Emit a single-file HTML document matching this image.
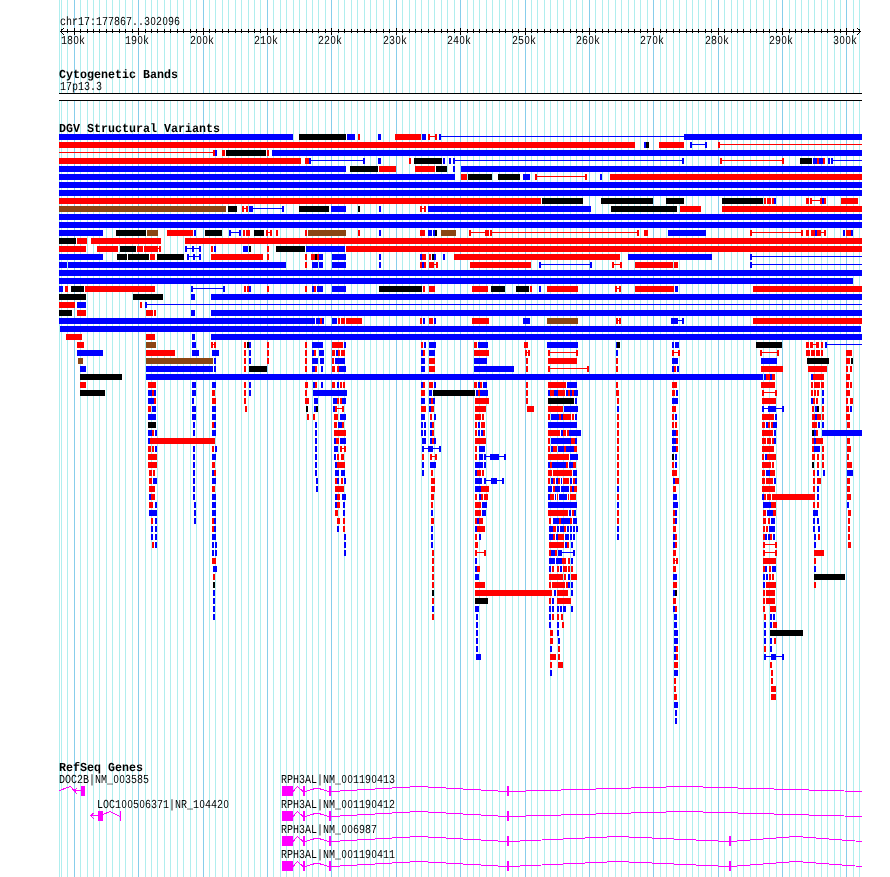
<!DOCTYPE html><html><head><meta charset="utf-8"><title>chr17:177867..302096</title>
<style>html,body{margin:0;padding:0;background:#fff}svg{display:block;will-change:transform}text{font-family:"Liberation Mono",monospace;fill:#000;text-rendering:geometricPrecision}.s{font-size:10px}.z{font-family:"Liberation Sans",sans-serif;font-size:9.4px}.b{font-size:11.67px;font-weight:bold}</style></head><body>
<svg width="890" height="877" viewBox="0 0 890 877" shape-rendering="crispEdges">
<rect width="890" height="877" fill="#fff"/>
<path d="M59 0v877M61 0v877M67 0v877M80 0v877M87 0v877M93 0v877M99 0v877M106 0v877M112 0v877M119 0v877M125 0v877M132 0v877M145 0v877M151 0v877M157 0v877M164 0v877M170 0v877M177 0v877M183 0v877M190 0v877M196 0v877M209 0v877M215 0v877M222 0v877M228 0v877M235 0v877M241 0v877M248 0v877M254 0v877M260 0v877M273 0v877M280 0v877M286 0v877M293 0v877M299 0v877M306 0v877M312 0v877M318 0v877M325 0v877M338 0v877M344 0v877M351 0v877M357 0v877M364 0v877M370 0v877M376 0v877M383 0v877M389 0v877M402 0v877M409 0v877M415 0v877M421 0v877M428 0v877M434 0v877M441 0v877M447 0v877M454 0v877M467 0v877M473 0v877M479 0v877M486 0v877M492 0v877M499 0v877M505 0v877M512 0v877M518 0v877M531 0v877M537 0v877M544 0v877M550 0v877M557 0v877M563 0v877M570 0v877M576 0v877M582 0v877M595 0v877M602 0v877M608 0v877M615 0v877M621 0v877M628 0v877M634 0v877M640 0v877M647 0v877M660 0v877M666 0v877M673 0v877M679 0v877M686 0v877M692 0v877M698 0v877M705 0v877M711 0v877M724 0v877M731 0v877M737 0v877M743 0v877M750 0v877M756 0v877M763 0v877M769 0v877M776 0v877M789 0v877M795 0v877M801 0v877M808 0v877M814 0v877M821 0v877M827 0v877M834 0v877M840 0v877M853 0v877M859 0v877" stroke="#b0eeee" stroke-width="1" transform="translate(0.5,0)" fill="none"/>
<path d="M74 0v877M138 0v877M203 0v877M267 0v877M331 0v877M396 0v877M460 0v877M525 0v877M589 0v877M653 0v877M718 0v877M782 0v877M846 0v877" stroke="#87ceeb" stroke-width="1" transform="translate(0.5,0)" fill="none"/>
<path d="M60 31h801v1h-801zM61 29h1v4h-1zM67 29h1v4h-1zM74 28h1v7h-1zM80 29h1v4h-1zM87 29h1v4h-1zM93 29h1v4h-1zM99 29h1v4h-1zM106 29h1v4h-1zM112 29h1v4h-1zM119 29h1v4h-1zM125 29h1v4h-1zM132 29h1v4h-1zM138 28h1v7h-1zM145 29h1v4h-1zM151 29h1v4h-1zM157 29h1v4h-1zM164 29h1v4h-1zM170 29h1v4h-1zM177 29h1v4h-1zM183 29h1v4h-1zM190 29h1v4h-1zM196 29h1v4h-1zM203 28h1v7h-1zM209 29h1v4h-1zM215 29h1v4h-1zM222 29h1v4h-1zM228 29h1v4h-1zM235 29h1v4h-1zM241 29h1v4h-1zM248 29h1v4h-1zM254 29h1v4h-1zM260 29h1v4h-1zM267 28h1v7h-1zM273 29h1v4h-1zM280 29h1v4h-1zM286 29h1v4h-1zM293 29h1v4h-1zM299 29h1v4h-1zM306 29h1v4h-1zM312 29h1v4h-1zM318 29h1v4h-1zM325 29h1v4h-1zM331 28h1v7h-1zM338 29h1v4h-1zM344 29h1v4h-1zM351 29h1v4h-1zM357 29h1v4h-1zM364 29h1v4h-1zM370 29h1v4h-1zM376 29h1v4h-1zM383 29h1v4h-1zM389 29h1v4h-1zM396 28h1v7h-1zM402 29h1v4h-1zM409 29h1v4h-1zM415 29h1v4h-1zM421 29h1v4h-1zM428 29h1v4h-1zM434 29h1v4h-1zM441 29h1v4h-1zM447 29h1v4h-1zM454 29h1v4h-1zM460 28h1v7h-1zM467 29h1v4h-1zM473 29h1v4h-1zM479 29h1v4h-1zM486 29h1v4h-1zM492 29h1v4h-1zM499 29h1v4h-1zM505 29h1v4h-1zM512 29h1v4h-1zM518 29h1v4h-1zM525 28h1v7h-1zM531 29h1v4h-1zM537 29h1v4h-1zM544 29h1v4h-1zM550 29h1v4h-1zM557 29h1v4h-1zM563 29h1v4h-1zM570 29h1v4h-1zM576 29h1v4h-1zM582 29h1v4h-1zM589 28h1v7h-1zM595 29h1v4h-1zM602 29h1v4h-1zM608 29h1v4h-1zM615 29h1v4h-1zM621 29h1v4h-1zM628 29h1v4h-1zM634 29h1v4h-1zM640 29h1v4h-1zM647 29h1v4h-1zM653 28h1v7h-1zM660 29h1v4h-1zM666 29h1v4h-1zM673 29h1v4h-1zM679 29h1v4h-1zM686 29h1v4h-1zM692 29h1v4h-1zM698 29h1v4h-1zM705 29h1v4h-1zM711 29h1v4h-1zM718 28h1v7h-1zM724 29h1v4h-1zM731 29h1v4h-1zM737 29h1v4h-1zM743 29h1v4h-1zM750 29h1v4h-1zM756 29h1v4h-1zM763 29h1v4h-1zM769 29h1v4h-1zM776 29h1v4h-1zM782 28h1v7h-1zM789 29h1v4h-1zM795 29h1v4h-1zM801 29h1v4h-1zM808 29h1v4h-1zM814 29h1v4h-1zM821 29h1v4h-1zM827 29h1v4h-1zM834 29h1v4h-1zM840 29h1v4h-1zM846 28h1v7h-1zM853 29h1v4h-1zM859 29h1v4h-1z" fill="#000"/>
<path d="M61 30h1v1h-1z M859 30h1v1h-1zM61 32h1v1h-1z M859 32h1v1h-1zM62 29h1v1h-1z M858 29h1v1h-1zM62 33h1v1h-1z M858 33h1v1h-1zM63 28h1v1h-1z M857 28h1v1h-1zM63 34h1v1h-1z M857 34h1v1h-1z" fill="#000"/>
<text class="s" transform="translate(60,25) scale(1,1.22)" xml:space="preserve"><tspan x="0">c</tspan><tspan x="6">h</tspan><tspan x="12">r</tspan><tspan x="18">1</tspan><tspan x="24">7</tspan><tspan x="30">:</tspan><tspan x="36">1</tspan><tspan x="42">7</tspan><tspan x="48">7</tspan><tspan x="54">8</tspan><tspan x="60">6</tspan><tspan x="66">7</tspan><tspan x="72">.</tspan><tspan x="78">.</tspan><tspan x="84">3</tspan><tspan class="z" x="90.4">0</tspan><tspan x="96">2</tspan><tspan class="z" x="102.4">0</tspan><tspan x="108">9</tspan><tspan x="114">6</tspan></text>
<text class="s" transform="translate(61,44) scale(1,1.22)" xml:space="preserve"><tspan x="0">1</tspan><tspan x="6">8</tspan><tspan class="z" x="12.4">0</tspan><tspan x="18">k</tspan></text>
<text class="s" transform="translate(125,44) scale(1,1.22)" xml:space="preserve"><tspan x="0">1</tspan><tspan x="6">9</tspan><tspan class="z" x="12.4">0</tspan><tspan x="18">k</tspan></text>
<text class="s" transform="translate(190,44) scale(1,1.22)" xml:space="preserve"><tspan x="0">2</tspan><tspan class="z" x="6.4">0</tspan><tspan class="z" x="12.4">0</tspan><tspan x="18">k</tspan></text>
<text class="s" transform="translate(254,44) scale(1,1.22)" xml:space="preserve"><tspan x="0">2</tspan><tspan x="6">1</tspan><tspan class="z" x="12.4">0</tspan><tspan x="18">k</tspan></text>
<text class="s" transform="translate(318,44) scale(1,1.22)" xml:space="preserve"><tspan x="0">2</tspan><tspan x="6">2</tspan><tspan class="z" x="12.4">0</tspan><tspan x="18">k</tspan></text>
<text class="s" transform="translate(383,44) scale(1,1.22)" xml:space="preserve"><tspan x="0">2</tspan><tspan x="6">3</tspan><tspan class="z" x="12.4">0</tspan><tspan x="18">k</tspan></text>
<text class="s" transform="translate(447,44) scale(1,1.22)" xml:space="preserve"><tspan x="0">2</tspan><tspan x="6">4</tspan><tspan class="z" x="12.4">0</tspan><tspan x="18">k</tspan></text>
<text class="s" transform="translate(512,44) scale(1,1.22)" xml:space="preserve"><tspan x="0">2</tspan><tspan x="6">5</tspan><tspan class="z" x="12.4">0</tspan><tspan x="18">k</tspan></text>
<text class="s" transform="translate(576,44) scale(1,1.22)" xml:space="preserve"><tspan x="0">2</tspan><tspan x="6">6</tspan><tspan class="z" x="12.4">0</tspan><tspan x="18">k</tspan></text>
<text class="s" transform="translate(640,44) scale(1,1.22)" xml:space="preserve"><tspan x="0">2</tspan><tspan x="6">7</tspan><tspan class="z" x="12.4">0</tspan><tspan x="18">k</tspan></text>
<text class="s" transform="translate(705,44) scale(1,1.22)" xml:space="preserve"><tspan x="0">2</tspan><tspan x="6">8</tspan><tspan class="z" x="12.4">0</tspan><tspan x="18">k</tspan></text>
<text class="s" transform="translate(769,44) scale(1,1.22)" xml:space="preserve"><tspan x="0">2</tspan><tspan x="6">9</tspan><tspan class="z" x="12.4">0</tspan><tspan x="18">k</tspan></text>
<text class="s" transform="translate(833,44) scale(1,1.22)" xml:space="preserve"><tspan x="0">3</tspan><tspan class="z" x="6.4">0</tspan><tspan class="z" x="12.4">0</tspan><tspan x="18">k</tspan></text>
<text class="b" transform="translate(59,78) scale(1,1.05)" xml:space="preserve">Cytogenetic Bands</text>
<text class="s" transform="translate(60,90) scale(1,1.22)" xml:space="preserve">17p13.3</text>
<rect x="59" y="93" width="803" height="8" fill="#000"/><rect x="59" y="94" width="803" height="6" fill="#fff"/>
<text class="b" transform="translate(59,132) scale(1,1.05)" xml:space="preserve">DGV Structural Variants</text>
<path d="M59 134h234v6h-234zM347 134h8v6h-8zM378 134h3v6h-3zM422 134h4v6h-4zM439 134h2v6h-2zM441 136h243v1h-243zM684 134h178v6h-178zM644 142h2v6h-2zM690 144h17v1h-17zM690 142h2v6h-2zM705 142h2v6h-2zM215 150h2v6h-2zM272 150h590v6h-590zM309 158h2v6h-2zM311 160h54v1h-54zM363 158h2v6h-2zM378 158h3v6h-3zM443 158h2v6h-2zM449 158h2v6h-2zM453 158h2v6h-2zM455 160h229v1h-229zM682 158h2v6h-2zM813 158h4v6h-4zM819 158h4v6h-4zM828 158h2v6h-2zM831 158h2v6h-2zM833 160h29v1h-29zM59 166h287v6h-287zM453 166h2v6h-2zM461 166h401v6h-401zM59 174h396v6h-396zM523 174h7v6h-7zM600 174h2v6h-2zM59 182h803v6h-803zM59 190h803v6h-803zM774 198h2v6h-2zM822 198h2v6h-2zM249 206h4v6h-4zM253 208h31v1h-31zM282 206h2v6h-2zM331 206h15v6h-15zM379 206h2v6h-2zM428 206h163v6h-163zM59 214h803v6h-803zM59 222h803v6h-803zM59 230h44v6h-44zM194 230h2v6h-2zM229 232h12v1h-12zM229 230h2v6h-2zM239 230h2v6h-2zM379 230h2v6h-2zM428 230h4v6h-4zM433 230h2v6h-2zM668 230h38v6h-38zM815 230h2v6h-2zM843 230h2v6h-2zM851 230h2v6h-2zM185 248h16v1h-16zM185 246h2v6h-2zM199 246h2v6h-2zM192 246h2v6h-2zM214 246h2v6h-2zM243 246h5v6h-5zM306 246h39v6h-39zM59 254h44v6h-44zM187 256h14v1h-14zM187 254h2v6h-2zM199 254h2v6h-2zM193 254h2v6h-2zM319 254h4v6h-4zM332 254h14v6h-14zM379 254h2v6h-2zM420 254h2v6h-2zM434 254h2v6h-2zM443 254h2v6h-2zM628 254h84v6h-84zM750 256h112v1h-112zM750 254h2v6h-2zM59 262h8v6h-8zM68 262h218v6h-218zM312 262h6v6h-6zM319 262h4v6h-4zM332 262h14v6h-14zM379 262h2v6h-2zM422 262h2v6h-2zM539 264h53v1h-53zM539 262h2v6h-2zM590 262h2v6h-2zM750 264h112v1h-112zM750 262h2v6h-2zM59 270h803v6h-803zM59 278h794v6h-794zM59 286h4v6h-4zM191 288h34v1h-34zM191 286h2v6h-2zM223 286h2v6h-2zM249 286h2v6h-2zM312 286h2v6h-2zM317 286h6v6h-6zM332 286h14v6h-14zM539 286h2v6h-2zM675 286h3v6h-3zM191 294h4v6h-4zM211 294h651v6h-651zM77 302h9v6h-9zM145 302h2v6h-2zM147 304h715v1h-715zM191 310h4v6h-4zM211 310h651v6h-651zM59 318h256v6h-256zM316 318h4v6h-4zM322 318h2v6h-2zM332 318h5v6h-5zM423 318h2v6h-2zM434 318h2v6h-2zM523 318h7v6h-7zM671 318h7v6h-7zM678 320h6v1h-6zM682 318h2v6h-2zM60 326h801v6h-801zM192 334h3v6h-3zM211 334h651v6h-651zM192 342h4v6h-4zM249 342h2v6h-2zM312 342h11v6h-11zM344 342h2v6h-2zM424 342h2v6h-2zM429 342h7v6h-7zM478 342h10v6h-10zM547 342h31v6h-31zM616 342h1v6h-1zM672 342h2v6h-2zM675 342h4v6h-4zM825 342h2v6h-2zM827 344h35v1h-35zM77 350h26v6h-26zM192 350h7v6h-7zM212 350h7v6h-7zM249 350h2v6h-2zM312 350h2v6h-2zM319 350h5v6h-5zM336 350h2v6h-2zM421 350h2v6h-2zM429 350h6v6h-6zM616 350h2v6h-2zM214 358h2v6h-2zM249 358h2v6h-2zM312 358h6v6h-6zM320 358h4v6h-4zM335 358h10v6h-10zM421 358h4v6h-4zM474 358h13v6h-13zM672 358h6v6h-6zM761 358h16v6h-16zM80 366h6v6h-6zM146 366h67v6h-67zM214 366h2v6h-2zM312 366h3v6h-3zM321 366h2v6h-2zM339 366h7v6h-7zM421 366h4v6h-4zM474 366h40v6h-40zM672 366h2v6h-2zM677 366h2v6h-2zM146 374h617v6h-617zM764 374h2v6h-2zM770 374h2v6h-2zM811 374h2v6h-2zM192 382h4v6h-4zM212 382h4v6h-4zM249 382h2v6h-2zM313 382h2v6h-2zM321 382h2v6h-2zM337 382h2v6h-2zM421 382h2v6h-2zM434 382h2v6h-2zM478 382h2v6h-2zM483 382h4v6h-4zM567 382h10v6h-10zM148 390h4v6h-4zM154 390h2v6h-2zM192 390h4v6h-4zM249 390h2v6h-2zM313 390h34v6h-34zM429 390h3v6h-3zM476 390h2v6h-2zM480 390h8v6h-8zM548 390h2v6h-2zM554 390h4v6h-4zM566 390h2v6h-2zM570 390h2v6h-2zM574 390h4v6h-4zM676 390h2v6h-2zM822 390h2v6h-2zM148 398h6v6h-6zM192 398h2v6h-2zM314 398h4v6h-4zM333 398h4v6h-4zM342 398h4v6h-4zM421 398h4v6h-4zM429 398h2v6h-2zM433 398h2v6h-2zM575 398h2v6h-2zM672 398h6v6h-6zM811 398h2v6h-2zM822 398h2v6h-2zM152 406h4v6h-4zM192 406h4v6h-4zM212 406h4v6h-4zM314 406h2v6h-2zM333 406h2v6h-2zM429 406h2v6h-2zM564 406h14v6h-14zM617 406h2v6h-2zM762 408h22v1h-22zM762 406h2v6h-2zM782 406h2v6h-2zM768 406h8v6h-8zM815 406h2v6h-2zM850 406h2v6h-2zM148 414h8v6h-8zM192 414h4v6h-4zM212 414h4v6h-4zM340 414h6v6h-6zM421 414h4v6h-4zM434 414h2v6h-2zM551 414h8v6h-8zM561 414h2v6h-2zM575 414h2v6h-2zM675 414h2v6h-2zM775 414h2v6h-2zM815 414h2v6h-2zM193 422h2v6h-2zM214 422h2v6h-2zM315 422h2v6h-2zM338 422h4v6h-4zM421 422h2v6h-2zM424 422h2v6h-2zM430 422h2v6h-2zM478 422h2v6h-2zM548 422h29v6h-29zM766 422h2v6h-2zM773 422h4v6h-4zM818 422h2v6h-2zM822 422h2v6h-2zM148 430h4v6h-4zM155 430h2v6h-2zM193 430h2v6h-2zM212 430h4v6h-4zM315 430h2v6h-2zM421 430h2v6h-2zM424 430h2v6h-2zM430 430h2v6h-2zM478 430h2v6h-2zM481 430h2v6h-2zM561 430h2v6h-2zM569 430h12v6h-12zM672 430h4v6h-4zM774 430h2v6h-2zM814 430h2v6h-2zM822 430h40v6h-40zM148 438h2v6h-2zM315 438h2v6h-2zM334 438h2v6h-2zM340 438h6v6h-6zM422 438h4v6h-4zM430 438h2v6h-2zM434 438h2v6h-2zM551 438h20v6h-20zM575 438h2v6h-2zM672 438h4v6h-4zM774 438h2v6h-2zM814 438h2v6h-2zM155 446h2v6h-2zM193 446h2v6h-2zM215 446h2v6h-2zM315 446h2v6h-2zM334 446h4v6h-4zM422 448h19v1h-19zM422 446h2v6h-2zM439 446h2v6h-2zM428 446h5v6h-5zM479 446h6v6h-6zM551 446h2v6h-2zM558 446h6v6h-6zM566 446h8v6h-8zM672 446h4v6h-4zM814 446h6v6h-6zM193 454h2v6h-2zM212 454h4v6h-4zM315 454h2v6h-2zM334 454h2v6h-2zM479 454h4v6h-4zM484 456h22v1h-22zM484 454h2v6h-2zM504 454h2v6h-2zM490 454h9v6h-9zM570 454h8v6h-8zM675 454h2v6h-2zM765 454h2v6h-2zM193 462h2v6h-2zM315 462h2v6h-2zM335 462h2v6h-2zM422 462h2v6h-2zM430 462h6v6h-6zM475 462h8v6h-8zM484 462h2v6h-2zM548 462h2v6h-2zM552 462h14v6h-14zM569 462h4v6h-4zM675 462h2v6h-2zM193 470h2v6h-2zM212 470h2v6h-2zM315 470h2v6h-2zM335 470h4v6h-4zM341 470h4v6h-4zM422 470h2v6h-2zM475 470h2v6h-2zM573 470h4v6h-4zM766 470h4v6h-4zM817 470h2v6h-2zM823 470h2v6h-2zM847 470h6v6h-6zM153 478h4v6h-4zM193 478h2v6h-2zM212 478h4v6h-4zM316 478h2v6h-2zM337 478h2v6h-2zM344 478h2v6h-2zM475 478h7v6h-7zM484 480h20v1h-20zM484 478h2v6h-2zM502 478h2v6h-2zM491 478h6v6h-6zM551 478h2v6h-2zM556 478h2v6h-2zM561 478h1v6h-1zM570 478h2v6h-2zM575 478h2v6h-2zM673 478h2v6h-2zM774 478h2v6h-2zM193 486h2v6h-2zM316 486h2v6h-2zM475 486h6v6h-6zM548 486h4v6h-4zM555 486h5v6h-5zM561 486h8v6h-8zM572 486h2v6h-2zM617 486h2v6h-2zM817 486h2v6h-2zM149 494h2v6h-2zM193 494h2v6h-2zM212 494h4v6h-4zM335 494h2v6h-2zM342 494h4v6h-4zM479 494h2v6h-2zM548 494h2v6h-2zM555 494h1v6h-1zM559 494h8v6h-8zM673 494h4v6h-4zM762 494h2v6h-2zM817 494h2v6h-2zM155 502h2v6h-2zM194 502h2v6h-2zM212 502h4v6h-4zM335 502h2v6h-2zM343 502h2v6h-2zM482 502h5v6h-5zM548 502h29v6h-29zM617 502h2v6h-2zM673 502h5v6h-5zM763 502h8v6h-8zM847 502h2v6h-2zM149 510h8v6h-8zM194 510h2v6h-2zM212 510h4v6h-4zM343 510h2v6h-2zM431 510h2v6h-2zM482 510h4v6h-4zM569 510h2v6h-2zM574 510h2v6h-2zM675 510h2v6h-2zM767 510h6v6h-6zM813 510h5v6h-5zM155 518h2v6h-2zM194 518h2v6h-2zM214 518h2v6h-2zM477 518h2v6h-2zM553 518h6v6h-6zM561 518h9v6h-9zM573 518h4v6h-4zM675 518h2v6h-2zM771 518h4v6h-4zM813 518h2v6h-2zM817 518h2v6h-2zM151 526h2v6h-2zM155 526h2v6h-2zM214 526h2v6h-2zM337 526h2v6h-2zM431 526h2v6h-2zM475 526h2v6h-2zM549 526h4v6h-4zM557 526h2v6h-2zM560 526h4v6h-4zM567 526h2v6h-2zM570 526h2v6h-2zM573 526h2v6h-2zM576 526h2v6h-2zM617 526h2v6h-2zM769 526h6v6h-6zM813 526h2v6h-2zM818 526h2v6h-2zM151 534h2v6h-2zM155 534h2v6h-2zM212 534h4v6h-4zM344 534h2v6h-2zM431 534h2v6h-2zM479 534h2v6h-2zM549 534h4v6h-4zM556 534h2v6h-2zM565 534h4v6h-4zM570 534h2v6h-2zM573 534h2v6h-2zM617 534h2v6h-2zM673 534h2v6h-2zM765 534h2v6h-2zM768 534h2v6h-2zM773 534h2v6h-2zM814 534h2v6h-2zM155 542h2v6h-2zM212 542h2v6h-2zM215 542h2v6h-2zM344 542h2v6h-2zM431 542h2v6h-2zM565 542h2v6h-2zM571 542h2v6h-2zM673 542h2v6h-2zM814 542h2v6h-2zM212 550h2v6h-2zM215 550h2v6h-2zM344 550h2v6h-2zM551 550h4v6h-4zM558 550h4v6h-4zM562 552h13v1h-13zM573 550h2v6h-2zM475 558h2v6h-2zM549 558h6v6h-6zM556 558h6v6h-6zM571 558h2v6h-2zM213 566h4v6h-4zM475 566h2v6h-2zM549 566h2v6h-2zM560 566h2v6h-2zM765 566h2v6h-2zM772 566h4v6h-4zM814 566h2v6h-2zM475 574h4v6h-4zM568 574h2v6h-2zM673 574h4v6h-4zM763 574h2v6h-2zM766 574h2v6h-2zM568 582h2v6h-2zM571 582h2v6h-2zM763 582h2v6h-2zM213 590h2v6h-2zM554 590h2v6h-2zM571 590h2v6h-2zM673 590h2v6h-2zM213 598h2v6h-2zM552 598h2v6h-2zM213 606h2v6h-2zM432 606h2v6h-2zM475 606h4v6h-4zM549 606h2v6h-2zM552 606h2v6h-2zM557 606h2v6h-2zM560 606h2v6h-2zM563 606h3v6h-3zM571 606h2v6h-2zM673 606h2v6h-2zM213 614h2v6h-2zM476 614h2v6h-2zM549 614h2v6h-2zM674 614h3v6h-3zM770 614h2v6h-2zM773 614h2v6h-2zM476 622h2v6h-2zM549 622h2v6h-2zM557 622h2v6h-2zM674 622h3v6h-3zM764 622h2v6h-2zM770 622h2v6h-2zM476 630h2v6h-2zM557 630h2v6h-2zM674 630h4v6h-4zM764 630h2v6h-2zM476 638h2v6h-2zM558 638h2v6h-2zM674 638h4v6h-4zM764 638h2v6h-2zM770 638h2v6h-2zM476 646h2v6h-2zM550 646h2v6h-2zM674 646h2v6h-2zM770 646h2v6h-2zM476 654h5v6h-5zM674 654h2v6h-2zM764 656h20v1h-20zM764 654h2v6h-2zM782 654h2v6h-2zM771 654h5v6h-5zM550 670h2v6h-2zM674 670h4v6h-4zM674 702h4v6h-4zM675 710h2v6h-2zM675 718h2v6h-2z" fill="#0000ff"/>
<path d="M358 134h2v6h-2zM395 134h26v6h-26zM428 136h9v1h-9zM428 134h2v6h-2zM435 134h2v6h-2zM59 142h576v6h-576zM659 142h25v6h-25zM718 144h144v1h-144zM718 142h2v6h-2zM59 152h154v1h-154zM213 150h2v6h-2zM222 150h3v6h-3zM267 150h2v6h-2zM59 158h242v6h-242zM305 158h4v6h-4zM409 158h2v6h-2zM720 160h64v1h-64zM720 158h2v6h-2zM782 158h2v6h-2zM817 158h2v6h-2zM823 158h2v6h-2zM379 166h17v6h-17zM415 166h20v6h-20zM461 174h6v6h-6zM535 176h52v1h-52zM535 174h2v6h-2zM585 174h2v6h-2zM610 174h252v6h-252zM59 198h482v6h-482zM764 198h2v6h-2zM767 198h4v6h-4zM772 198h2v6h-2zM806 198h3v6h-3zM810 198h2v6h-2zM812 200h8v1h-8zM820 198h2v6h-2zM824 198h2v6h-2zM841 198h17v6h-17zM242 208h6v1h-6zM242 206h2v6h-2zM246 206h2v6h-2zM420 208h6v1h-6zM420 206h2v6h-2zM424 206h2v6h-2zM680 206h21v6h-21zM722 206h140v6h-140zM167 230h26v6h-26zM243 230h2v6h-2zM246 230h4v6h-4zM266 232h6v1h-6zM266 230h2v6h-2zM270 230h2v6h-2zM276 230h2v6h-2zM305 230h2v6h-2zM358 230h2v6h-2zM420 230h5v6h-5zM469 232h16v1h-16zM469 230h2v6h-2zM485 230h4v6h-4zM490 230h2v6h-2zM492 232h147v1h-147zM637 230h2v6h-2zM644 230h4v6h-4zM750 232h53v1h-53zM750 230h2v6h-2zM801 230h2v6h-2zM806 230h3v6h-3zM811 230h4v6h-4zM817 230h4v6h-4zM821 232h5v1h-5zM824 230h2v6h-2zM846 230h5v6h-5zM77 238h10v6h-10zM91 238h70v6h-70zM185 238h677v6h-677zM59 246h27v6h-27zM97 246h21v6h-21zM137 246h6v6h-6zM144 246h14v6h-14zM158 248h3v1h-3zM159 246h2v6h-2zM211 246h2v6h-2zM267 246h2v6h-2zM346 246h516v6h-516zM150 254h5v6h-5zM211 254h52v6h-52zM267 254h2v6h-2zM305 254h2v6h-2zM311 254h4v6h-4zM317 254h2v6h-2zM422 254h4v6h-4zM429 254h2v6h-2zM454 254h166v6h-166zM305 262h2v6h-2zM420 262h2v6h-2zM424 262h2v6h-2zM429 262h5v6h-5zM434 264h4v1h-4zM436 262h2v6h-2zM470 262h61v6h-61zM612 264h10v1h-10zM612 262h2v6h-2zM620 262h2v6h-2zM635 262h38v6h-38zM674 264h4v1h-4zM674 262h2v6h-2zM676 262h2v6h-2zM65 286h3v6h-3zM85 286h70v6h-70zM244 286h2v6h-2zM247 286h2v6h-2zM267 286h2v6h-2zM305 286h2v6h-2zM314 286h2v6h-2zM423 286h2v6h-2zM429 286h6v6h-6zM472 286h16v6h-16zM530 286h2v6h-2zM547 286h31v6h-31zM615 288h6v1h-6zM615 286h2v6h-2zM619 286h2v6h-2zM635 286h39v6h-39zM753 286h109v6h-109zM59 302h16v6h-16zM140 302h2v6h-2zM77 310h9v6h-9zM146 310h7v6h-7zM154 310h2v6h-2zM320 318h2v6h-2zM338 318h2v6h-2zM341 318h4v6h-4zM346 318h16v6h-16zM420 318h2v6h-2zM429 318h4v6h-4zM472 318h17v6h-17zM616 320h5v1h-5zM616 318h2v6h-2zM619 318h2v6h-2zM753 318h109v6h-109zM66 334h16v6h-16zM146 334h9v6h-9zM77 342h7v6h-7zM211 344h5v1h-5zM211 342h2v6h-2zM214 342h2v6h-2zM244 342h2v6h-2zM267 342h2v6h-2zM305 342h2v6h-2zM332 342h11v6h-11zM421 342h2v6h-2zM474 342h3v6h-3zM524 342h4v6h-4zM806 342h3v6h-3zM810 342h3v6h-3zM813 344h3v1h-3zM816 342h3v6h-3zM821 342h2v6h-2zM146 350h29v6h-29zM244 350h2v6h-2zM267 350h2v6h-2zM305 350h2v6h-2zM314 350h2v6h-2zM332 350h3v6h-3zM338 350h2v6h-2zM341 350h4v6h-4zM423 350h2v6h-2zM474 350h15v6h-15zM525 352h5v1h-5zM525 350h2v6h-2zM528 350h2v6h-2zM548 352h30v1h-30zM548 350h2v6h-2zM576 350h2v6h-2zM672 352h8v1h-8zM672 350h2v6h-2zM678 350h2v6h-2zM760 352h19v1h-19zM760 350h2v6h-2zM777 350h2v6h-2zM806 350h4v6h-4zM811 350h4v6h-4zM816 350h4v6h-4zM821 350h2v6h-2zM846 350h6v6h-6zM244 358h2v6h-2zM267 358h2v6h-2zM305 358h2v6h-2zM332 358h2v6h-2zM429 358h6v6h-6zM526 358h2v6h-2zM548 358h29v6h-29zM616 358h2v6h-2zM846 358h4v6h-4zM244 366h2v6h-2zM305 366h2v6h-2zM315 366h2v6h-2zM332 366h3v6h-3zM337 366h2v6h-2zM429 366h6v6h-6zM526 366h2v6h-2zM548 368h41v1h-41zM548 366h2v6h-2zM587 366h2v6h-2zM616 366h2v6h-2zM674 366h2v6h-2zM761 366h22v6h-22zM808 366h19v6h-19zM846 366h2v6h-2zM850 366h2v6h-2zM766 374h4v6h-4zM772 374h3v6h-3zM813 374h11v6h-11zM846 374h4v6h-4zM80 382h6v6h-6zM148 382h8v6h-8zM244 382h2v6h-2zM305 382h3v6h-3zM315 382h2v6h-2zM332 382h3v6h-3zM340 382h2v6h-2zM343 382h2v6h-2zM423 382h2v6h-2zM429 382h4v6h-4zM474 382h3v6h-3zM480 382h2v6h-2zM526 382h2v6h-2zM548 382h18v6h-18zM616 382h2v6h-2zM672 382h5v6h-5zM761 382h14v6h-14zM811 382h2v6h-2zM814 382h6v6h-6zM821 382h3v6h-3zM846 382h3v6h-3zM850 382h2v6h-2zM152 390h2v6h-2zM212 390h3v6h-3zM244 390h2v6h-2zM305 390h2v6h-2zM421 390h4v6h-4zM478 390h2v6h-2zM526 390h2v6h-2zM550 390h4v6h-4zM558 390h7v6h-7zM568 390h2v6h-2zM572 390h2v6h-2zM616 390h3v6h-3zM672 390h3v6h-3zM762 392h15v1h-15zM762 390h2v6h-2zM775 390h2v6h-2zM811 390h2v6h-2zM814 390h2v6h-2zM817 390h2v6h-2zM846 390h4v6h-4zM154 398h2v6h-2zM212 398h4v6h-4zM244 398h2v6h-2zM305 398h4v6h-4zM337 398h2v6h-2zM340 398h2v6h-2zM431 398h2v6h-2zM475 398h14v6h-14zM526 398h2v6h-2zM617 398h2v6h-2zM762 398h14v6h-14zM813 398h2v6h-2zM816 398h2v6h-2zM846 398h2v6h-2zM850 398h3v6h-3zM148 406h3v6h-3zM245 406h2v6h-2zM335 408h9v1h-9zM335 406h2v6h-2zM342 406h2v6h-2zM421 406h5v6h-5zM431 406h3v6h-3zM475 406h11v6h-11zM527 406h7v6h-7zM548 406h15v6h-15zM672 406h4v6h-4zM812 406h2v6h-2zM822 406h2v6h-2zM846 406h3v6h-3zM307 414h2v6h-2zM313 414h2v6h-2zM334 414h4v6h-4zM430 414h2v6h-2zM475 414h6v6h-6zM482 414h2v6h-2zM548 414h2v6h-2zM559 414h2v6h-2zM563 414h8v6h-8zM572 414h2v6h-2zM617 414h2v6h-2zM672 414h2v6h-2zM762 414h12v6h-12zM812 414h3v6h-3zM817 414h4v6h-4zM822 414h2v6h-2zM846 414h4v6h-4zM212 422h2v6h-2zM334 422h3v6h-3zM342 422h2v6h-2zM432 422h2v6h-2zM475 422h2v6h-2zM481 422h4v6h-4zM617 422h2v6h-2zM672 422h2v6h-2zM675 422h2v6h-2zM762 422h3v6h-3zM768 422h2v6h-2zM771 422h2v6h-2zM812 422h5v6h-5zM847 422h3v6h-3zM152 430h2v6h-2zM334 430h12v6h-12zM432 430h2v6h-2zM475 430h2v6h-2zM483 430h2v6h-2zM548 430h12v6h-12zM563 430h3v6h-3zM567 430h2v6h-2zM617 430h2v6h-2zM676 430h2v6h-2zM762 430h11v6h-11zM816 430h2v6h-2zM150 438h65v6h-65zM336 438h3v6h-3zM432 438h2v6h-2zM475 438h11v6h-11zM548 438h2v6h-2zM571 438h4v6h-4zM617 438h2v6h-2zM676 438h2v6h-2zM762 438h4v6h-4zM767 438h4v6h-4zM772 438h2v6h-2zM812 438h2v6h-2zM816 438h7v6h-7zM847 438h3v6h-3zM148 446h3v6h-3zM152 446h2v6h-2zM212 446h2v6h-2zM340 448h6v1h-6zM340 446h2v6h-2zM344 446h2v6h-2zM475 446h2v6h-2zM548 446h2v6h-2zM553 446h4v6h-4zM564 446h2v6h-2zM574 446h3v6h-3zM617 446h2v6h-2zM676 446h2v6h-2zM762 446h12v6h-12zM812 446h2v6h-2zM822 446h2v6h-2zM847 446h4v6h-4zM148 454h9v6h-9zM337 454h2v6h-2zM341 454h3v6h-3zM422 454h2v6h-2zM430 456h7v1h-7zM430 454h2v6h-2zM435 454h2v6h-2zM475 454h2v6h-2zM548 454h21v6h-21zM617 454h2v6h-2zM762 454h2v6h-2zM767 454h9v6h-9zM812 454h3v6h-3zM817 454h2v6h-2zM822 454h2v6h-2zM847 454h2v6h-2zM148 462h9v6h-9zM212 462h3v6h-3zM337 462h8v6h-8zM550 462h2v6h-2zM566 462h2v6h-2zM573 462h3v6h-3zM617 462h2v6h-2zM672 462h2v6h-2zM762 462h9v6h-9zM772 462h2v6h-2zM817 462h2v6h-2zM822 462h2v6h-2zM847 462h5v6h-5zM149 470h3v6h-3zM153 470h2v6h-2zM214 470h2v6h-2zM431 470h2v6h-2zM477 470h4v6h-4zM482 470h2v6h-2zM548 470h4v6h-4zM553 470h19v6h-19zM617 470h2v6h-2zM672 470h5v6h-5zM762 470h3v6h-3zM770 470h5v6h-5zM813 470h2v6h-2zM149 478h3v6h-3zM335 478h2v6h-2zM341 478h2v6h-2zM431 478h4v6h-4zM548 478h2v6h-2zM553 478h2v6h-2zM558 478h2v6h-2zM563 478h6v6h-6zM573 478h2v6h-2zM617 478h2v6h-2zM675 478h4v6h-4zM762 478h3v6h-3zM766 478h7v6h-7zM813 478h2v6h-2zM817 478h4v6h-4zM847 478h3v6h-3zM149 486h6v6h-6zM212 486h3v6h-3zM335 486h9v6h-9zM431 486h4v6h-4zM481 486h8v6h-8zM553 486h2v6h-2zM570 486h2v6h-2zM574 486h3v6h-3zM673 486h3v6h-3zM762 486h13v6h-13zM813 486h2v6h-2zM847 486h3v6h-3zM151 494h4v6h-4zM337 494h3v6h-3zM431 494h3v6h-3zM475 494h2v6h-2zM481 494h2v6h-2zM484 494h4v6h-4zM550 494h4v6h-4zM557 494h1v6h-1zM568 494h1v6h-1zM570 494h6v6h-6zM617 494h2v6h-2zM764 494h2v6h-2zM767 494h4v6h-4zM772 494h43v6h-43zM847 494h4v6h-4zM149 502h4v6h-4zM337 502h3v6h-3zM431 502h2v6h-2zM475 502h6v6h-6zM771 502h5v6h-5zM813 502h2v6h-2zM817 502h2v6h-2zM335 510h3v6h-3zM475 510h6v6h-6zM548 510h20v6h-20zM572 510h2v6h-2zM617 510h2v6h-2zM673 510h2v6h-2zM763 510h3v6h-3zM773 510h3v6h-3zM848 510h3v6h-3zM151 518h2v6h-2zM212 518h2v6h-2zM337 518h3v6h-3zM343 518h2v6h-2zM431 518h3v6h-3zM475 518h2v6h-2zM479 518h4v6h-4zM549 518h2v6h-2zM559 518h2v6h-2zM570 518h2v6h-2zM617 518h2v6h-2zM673 518h2v6h-2zM763 518h3v6h-3zM768 518h2v6h-2zM848 518h2v6h-2zM212 526h2v6h-2zM343 526h2v6h-2zM477 526h8v6h-8zM553 526h3v6h-3zM564 526h2v6h-2zM673 526h3v6h-3zM763 526h2v6h-2zM766 526h2v6h-2zM848 526h2v6h-2zM475 534h2v6h-2zM553 534h2v6h-2zM558 534h6v6h-6zM675 534h2v6h-2zM763 534h2v6h-2zM770 534h2v6h-2zM818 534h2v6h-2zM848 534h2v6h-2zM152 542h2v6h-2zM475 542h3v6h-3zM549 542h15v6h-15zM567 542h2v6h-2zM675 542h2v6h-2zM763 544h14v1h-14zM763 542h2v6h-2zM775 542h2v6h-2zM848 542h3v6h-3zM432 550h2v6h-2zM475 552h11v1h-11zM475 550h2v6h-2zM484 550h2v6h-2zM549 550h2v6h-2zM555 550h2v6h-2zM673 550h3v6h-3zM763 552h14v1h-14zM763 550h2v6h-2zM775 550h2v6h-2zM814 550h10v6h-10zM212 558h4v6h-4zM432 558h2v6h-2zM562 558h4v6h-4zM568 558h2v6h-2zM673 560h5v1h-5zM673 558h2v6h-2zM676 558h2v6h-2zM763 558h13v6h-13zM814 558h2v6h-2zM432 566h2v6h-2zM477 566h3v6h-3zM552 566h2v6h-2zM557 566h2v6h-2zM563 566h2v6h-2zM565 566h2v6h-2zM568 566h2v6h-2zM571 566h2v6h-2zM673 566h3v6h-3zM763 566h2v6h-2zM769 566h2v6h-2zM213 574h2v6h-2zM432 574h2v6h-2zM549 574h14v6h-14zM564 574h2v6h-2zM571 574h6v6h-6zM769 574h2v6h-2zM772 574h2v6h-2zM432 582h2v6h-2zM475 582h10v6h-10zM549 582h2v6h-2zM552 582h13v6h-13zM566 582h2v6h-2zM673 582h4v6h-4zM766 582h10v6h-10zM814 582h2v6h-2zM475 590h77v6h-77zM557 590h11v6h-11zM763 590h2v6h-2zM766 590h9v6h-9zM432 598h2v6h-2zM549 598h2v6h-2zM557 598h14v6h-14zM673 598h3v6h-3zM763 598h2v6h-2zM766 598h9v6h-9zM675 606h2v6h-2zM763 606h2v6h-2zM770 606h6v6h-6zM432 614h2v6h-2zM552 614h2v6h-2zM557 614h2v6h-2zM561 614h2v6h-2zM764 614h2v6h-2zM562 622h2v6h-2zM773 622h4v6h-4zM550 630h3v6h-3zM550 638h3v6h-3zM774 638h2v6h-2zM558 646h2v6h-2zM676 646h2v6h-2zM764 646h2v6h-2zM550 654h6v6h-6zM558 654h2v6h-2zM676 654h2v6h-2zM550 662h2v6h-2zM558 662h5v6h-5zM674 662h4v6h-4zM770 662h2v6h-2zM771 670h2v6h-2zM674 678h2v6h-2zM771 678h2v6h-2zM674 686h2v6h-2zM771 686h5v6h-5zM674 694h3v6h-3zM771 694h5v6h-5z" fill="#ff0000"/>
<path d="M299 134h47v6h-47zM646 142h3v6h-3zM226 150h40v6h-40zM414 158h28v6h-28zM800 158h12v6h-12zM350 166h28v6h-28zM436 166h11v6h-11zM468 174h24v6h-24zM498 174h22v6h-22zM542 198h41v6h-41zM601 198h52v6h-52zM666 198h18v6h-18zM722 198h41v6h-41zM228 206h9v6h-9zM299 206h30v6h-30zM358 206h2v6h-2zM611 206h66v6h-66zM116 230h30v6h-30zM205 230h17v6h-17zM254 230h10v6h-10zM435 230h2v6h-2zM59 238h17v6h-17zM120 246h16v6h-16zM249 246h2v6h-2zM276 246h29v6h-29zM117 254h10v6h-10zM128 254h21v6h-21zM157 254h27v6h-27zM315 254h2v6h-2zM432 254h2v6h-2zM71 286h13v6h-13zM379 286h43v6h-43zM491 286h14v6h-14zM516 286h13v6h-13zM59 294h27v6h-27zM133 294h30v6h-30zM59 310h13v6h-13zM247 342h2v6h-2zM617 342h3v6h-3zM756 342h26v6h-26zM807 358h22v6h-22zM851 358h2v6h-2zM249 366h18v6h-18zM80 374h42v6h-42zM80 390h25v6h-25zM433 390h42v6h-42zM548 398h26v6h-26zM306 406h2v6h-2zM316 406h2v6h-2zM817 406h2v6h-2zM148 422h8v6h-8zM812 430h2v6h-2zM672 454h2v6h-2zM812 462h2v6h-2zM814 574h31v6h-31zM213 582h2v6h-2zM432 590h2v6h-2zM675 590h2v6h-2zM475 598h13v6h-13zM770 630h33v6h-33z" fill="#000000"/>
<path d="M59 206h167v6h-167zM147 230h11v6h-11zM308 230h38v6h-38zM441 230h15v6h-15zM547 318h31v6h-31zM146 342h10v6h-10zM78 358h5v6h-5zM146 358h67v6h-67z" fill="#8b4513"/>
<text class="b" transform="translate(59,771) scale(1,1.05)" xml:space="preserve">RefSeq Genes</text>
<text class="s" transform="translate(59,783) scale(1,1.22)" xml:space="preserve"><tspan x="0">D</tspan><tspan x="6">O</tspan><tspan x="12">C</tspan><tspan x="18">2</tspan><tspan x="24">B</tspan><tspan x="30">|</tspan><tspan x="36">N</tspan><tspan x="42">M</tspan><tspan x="48">_</tspan><tspan class="z" x="54.4">0</tspan><tspan class="z" x="60.4">0</tspan><tspan x="66">3</tspan><tspan x="72">5</tspan><tspan x="78">8</tspan><tspan x="84">5</tspan></text>
<text class="s" transform="translate(97,808) scale(1,1.22)" xml:space="preserve"><tspan x="0">L</tspan><tspan x="6">O</tspan><tspan x="12">C</tspan><tspan x="18">1</tspan><tspan class="z" x="24.4">0</tspan><tspan class="z" x="30.4">0</tspan><tspan x="36">5</tspan><tspan class="z" x="42.4">0</tspan><tspan x="48">6</tspan><tspan x="54">3</tspan><tspan x="60">7</tspan><tspan x="66">1</tspan><tspan x="72">|</tspan><tspan x="78">N</tspan><tspan x="84">R</tspan><tspan x="90">_</tspan><tspan x="96">1</tspan><tspan class="z" x="102.4">0</tspan><tspan x="108">4</tspan><tspan x="114">4</tspan><tspan x="120">2</tspan><tspan class="z" x="126.4">0</tspan></text>
<text class="s" transform="translate(281,783) scale(1,1.22)" xml:space="preserve"><tspan x="0">R</tspan><tspan x="6">P</tspan><tspan x="12">H</tspan><tspan x="18">3</tspan><tspan x="24">A</tspan><tspan x="30">L</tspan><tspan x="36">|</tspan><tspan x="42">N</tspan><tspan x="48">M</tspan><tspan x="54">_</tspan><tspan class="z" x="60.4">0</tspan><tspan class="z" x="66.4">0</tspan><tspan x="72">1</tspan><tspan x="78">1</tspan><tspan x="84">9</tspan><tspan class="z" x="90.4">0</tspan><tspan x="96">4</tspan><tspan x="102">1</tspan><tspan x="108">3</tspan></text>
<text class="s" transform="translate(281,808) scale(1,1.22)" xml:space="preserve"><tspan x="0">R</tspan><tspan x="6">P</tspan><tspan x="12">H</tspan><tspan x="18">3</tspan><tspan x="24">A</tspan><tspan x="30">L</tspan><tspan x="36">|</tspan><tspan x="42">N</tspan><tspan x="48">M</tspan><tspan x="54">_</tspan><tspan class="z" x="60.4">0</tspan><tspan class="z" x="66.4">0</tspan><tspan x="72">1</tspan><tspan x="78">1</tspan><tspan x="84">9</tspan><tspan class="z" x="90.4">0</tspan><tspan x="96">4</tspan><tspan x="102">1</tspan><tspan x="108">2</tspan></text>
<text class="s" transform="translate(281,833) scale(1,1.22)" xml:space="preserve"><tspan x="0">R</tspan><tspan x="6">P</tspan><tspan x="12">H</tspan><tspan x="18">3</tspan><tspan x="24">A</tspan><tspan x="30">L</tspan><tspan x="36">|</tspan><tspan x="42">N</tspan><tspan x="48">M</tspan><tspan x="54">_</tspan><tspan class="z" x="60.4">0</tspan><tspan class="z" x="66.4">0</tspan><tspan x="72">6</tspan><tspan x="78">9</tspan><tspan x="84">8</tspan><tspan x="90">7</tspan></text>
<text class="s" transform="translate(281,858) scale(1,1.22)" xml:space="preserve"><tspan x="0">R</tspan><tspan x="6">P</tspan><tspan x="12">H</tspan><tspan x="18">3</tspan><tspan x="24">A</tspan><tspan x="30">L</tspan><tspan x="36">|</tspan><tspan x="42">N</tspan><tspan x="48">M</tspan><tspan x="54">_</tspan><tspan class="z" x="60.4">0</tspan><tspan class="z" x="66.4">0</tspan><tspan x="72">1</tspan><tspan x="78">1</tspan><tspan x="84">9</tspan><tspan class="z" x="90.4">0</tspan><tspan x="96">4</tspan><tspan x="102">1</tspan><tspan x="108">1</tspan></text>
<path d="M81 786h4v10h-4zM98 811h5v10h-5zM120 811h1v10h-1zM282 786h11v10h-11zM303 786h2v10h-2zM329 786h2v10h-2zM507 786h2v10h-2zM282 811h11v10h-11zM303 811h2v10h-2zM329 811h2v10h-2zM507 811h2v10h-2zM282 836h11v10h-11zM303 836h2v10h-2zM329 836h2v10h-2zM507 836h2v10h-2zM729 836h2v10h-2zM282 861h11v10h-11zM303 861h2v10h-2zM329 861h2v10h-2zM507 861h2v10h-2zM729 861h2v10h-2z" fill="#ff00ff"/>
<path d="M59.5 790.5L70.5 786.5L74 790.5M74 790.5H81M77.5 787.5L74 790.5L77.5 794.5M94.5 812.5L90.5 815.5L94.5 819.5M90.5 815.5H98M103 814.5L110 811.5L120 816.5M293 791.5L297.5 786.5L303 791.5M305 791.5L317 788.0L329 791.5M331 791.5L419 786.5L507 791.5M509 791.5L684.5 786.5L862 791.5M293 816.5L297.5 811.5L303 816.5M305 816.5L317 813.0L329 816.5M331 816.5L419 811.5L507 816.5M509 816.5L684.5 811.5L862 816.5M293 841.5L297.5 836.5L303 841.5M305 841.5L317 838.0L329 841.5M331 841.5L419 836.5L507 841.5M509 841.5L618 836.5L729 841.5M731 841.5L796 836.5L862 841.5M293 866.5L297.5 861.5L303 866.5M305 866.5L317 863.0L329 866.5M331 866.5L419 861.5L507 866.5M509 866.5L618 861.5L729 866.5M731 866.5L796 861.5L862 866.5" stroke="#ff00ff" stroke-width="1" fill="none" shape-rendering="crispEdges"/>
</svg></body></html>
